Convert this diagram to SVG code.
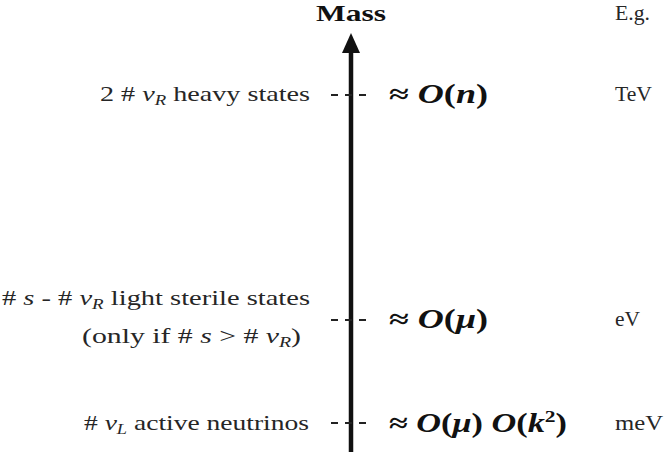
<svg xmlns="http://www.w3.org/2000/svg" width="664" height="452" viewBox="0 0 664 452">
<style>
.lbl{font-family:"Liberation Serif","DejaVu Serif",serif;font-size:21px;fill:#262626}
.r{text-anchor:end}
.m{font-family:"Liberation Serif","DejaVu Serif",serif;font-size:27px;fill:#111;font-weight:bold}
.o{font-style:italic}
.i{font-style:italic}
.sub{font-size:14px;font-style:italic}
.dash{stroke:#222;stroke-width:2.2;stroke-dasharray:7 7}
</style>
<rect width="664" height="452" fill="#fff"/>
<g id="connectors">
<line x1="351" y1="452" x2="351" y2="50" stroke="#111" stroke-width="4.5"/>
<polygon points="351,33 360,53 342,53" fill="#111"/>
<line class="dash" x1="331" y1="95" x2="372" y2="95"/>
<line class="dash" x1="331" y1="320" x2="372" y2="320"/>
<line class="dash" x1="331" y1="423" x2="372" y2="423"/>
</g>
<g id="axis-title">
<text x="316" y="21" textLength="70" lengthAdjust="spacingAndGlyphs" font-family="Liberation Serif,serif" font-weight="bold" font-size="24" fill="#111">Mass</text>
<text x="615" y="20" class="lbl" textLength="35" lengthAdjust="spacingAndGlyphs">E.g.</text>
</g>
<g id="heavy">
<text x="100" y="101" class="lbl" textLength="210" lengthAdjust="spacingAndGlyphs">2 # <tspan class="i">ν</tspan><tspan class="sub" dy="4">R</tspan><tspan dy="-4"> heavy states</tspan></text>
<text x="389" y="103" class="m" textLength="99" lengthAdjust="spacingAndGlyphs">≈ <tspan class="o">O</tspan>(<tspan class="i">n</tspan>)</text>
<text x="615" y="101" class="lbl" textLength="37" lengthAdjust="spacingAndGlyphs">TeV</text>
</g>
<g id="sterile">
<text x="2" y="305" class="lbl" textLength="308" lengthAdjust="spacingAndGlyphs"># <tspan class="i">s</tspan> - # <tspan class="i">ν</tspan><tspan class="sub" dy="4">R</tspan><tspan dy="-4"> light sterile states</tspan></text>
<text x="82" y="343" class="lbl" textLength="219" lengthAdjust="spacingAndGlyphs">(only if # <tspan class="i">s</tspan> &gt; # <tspan class="i">ν</tspan><tspan class="sub" dy="4">R</tspan><tspan dy="-4">)</tspan></text>
<text x="389" y="328" class="m" textLength="99" lengthAdjust="spacingAndGlyphs">≈ <tspan class="o">O</tspan>(<tspan class="i">μ</tspan>)</text>
<text x="615" y="326" class="lbl" textLength="25" lengthAdjust="spacingAndGlyphs">eV</text>
</g>
<g id="active">
<text x="84" y="430" class="lbl" textLength="225" lengthAdjust="spacingAndGlyphs"># <tspan class="i">ν</tspan><tspan class="sub" dy="4">L</tspan><tspan dy="-4"> active neutrinos</tspan></text>
<text x="389" y="432" class="m" textLength="178" lengthAdjust="spacingAndGlyphs">≈ <tspan class="o">O</tspan>(<tspan class="i">μ</tspan>) <tspan class="o">O</tspan>(<tspan class="i">k</tspan><tspan font-size="17" dy="-10">2</tspan><tspan dy="10">)</tspan></text>
<text x="615" y="430" class="lbl" textLength="48" lengthAdjust="spacingAndGlyphs">meV</text>
</g>
</svg>
